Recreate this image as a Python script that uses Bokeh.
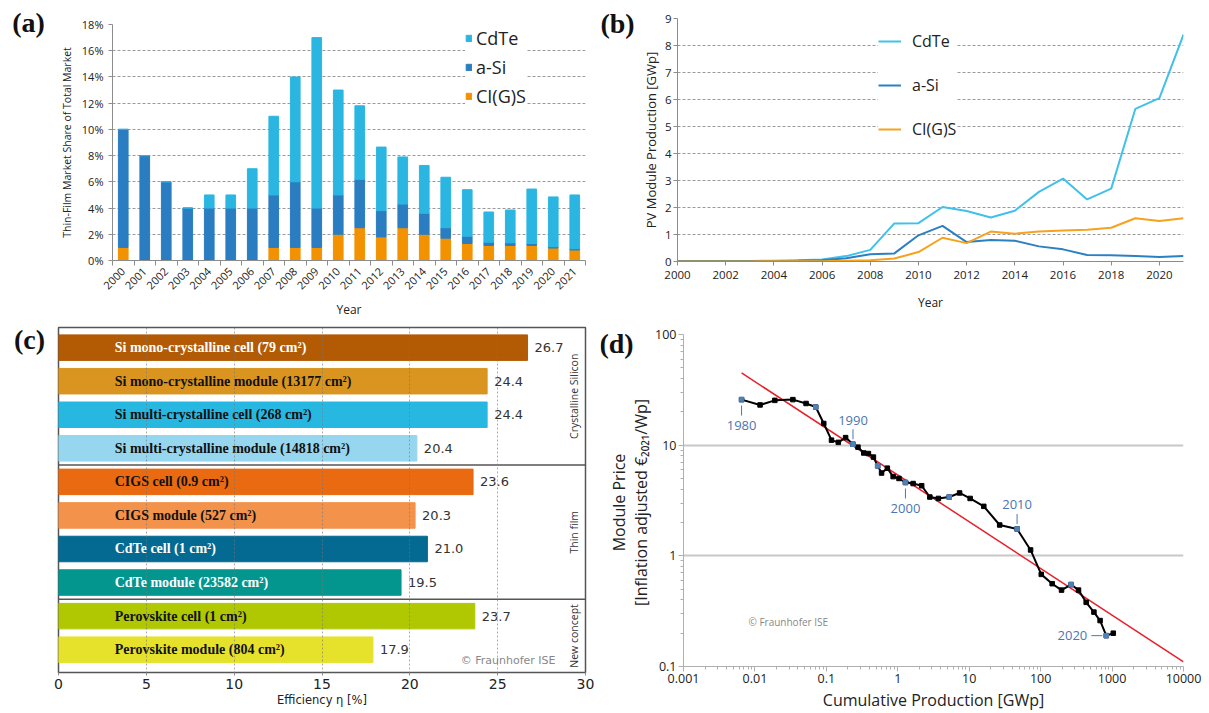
import math

from bokeh.core.properties import value
from bokeh.embed import file_html
from bokeh.layouts import column, row
from bokeh.models import (ColumnDataSource, CustomJSTickFormatter, FixedTicker, Label,
                          Legend, LegendItem, PrintfTickFormatter, Range1d, Span)
from bokeh.plotting import figure
from bokeh.resources import INLINE

SANS = "Open Sans"
SERIF = "Liberation Serif"
WIDE = "DejaVu Sans"

# ---------------------------------------------------------------- data
# (a) thin-film market share of total PV market [%]
years = list(range(2000, 2022))
share_cigs = [1.0, 0, 0, 0, 0, 0, 0, 1.0, 1.0, 1.0, 2.0, 2.5, 1.8, 2.5, 2.0, 1.7,
              1.3, 1.15, 1.15, 1.15, 0.95, 0.8]
share_asi = [9.0, 8.0, 6.0, 4.0, 4.0, 4.0, 4.0, 4.0, 5.0, 3.0, 3.0, 3.7, 2.0, 1.8,
             1.6, 0.8, 0.55, 0.25, 0.2, 0.15, 0.1, 0.1]
share_cdte = [0, 0, 0, 0, 1.0, 1.0, 3.0, 6.0, 8.0, 13.0, 8.0, 5.6, 4.85, 3.6, 3.65,
              3.85, 3.55, 2.3, 2.5, 4.15, 3.8, 4.1]
share_ticks = list(range(0, 19, 2))

# (b) PV module production [GWp]
prod_cdte = [0.02, 0.02, 0.02, 0.02, 0.03, 0.05, 0.07, 0.2, 0.43, 1.41, 1.42, 2.02,
             1.87, 1.63, 1.88, 2.58, 3.07, 2.3, 2.7, 5.65, 6.05, 8.4]
prod_asi = [0.02, 0.02, 0.02, 0.02, 0.02, 0.03, 0.05, 0.12, 0.27, 0.3, 0.97, 1.32,
            0.72, 0.8, 0.77, 0.56, 0.45, 0.24, 0.23, 0.2, 0.17, 0.2]
prod_cigs = [0, 0, 0, 0, 0.01, 0.01, 0.01, 0.03, 0.05, 0.11, 0.35, 0.88, 0.68, 1.11,
             1.03, 1.11, 1.15, 1.18, 1.25, 1.6, 1.5, 1.6]
prod_year_ticks = list(range(2000, 2021, 2))

# (c) record efficiencies [%]
eff_labels = ["Si mono-crystalline  cell (79 cm²)",
              "Si mono-crystalline  module (13177 cm²)",
              "Si multi-crystalline  cell (268 cm²)",
              "Si multi-crystalline  module (14818 cm²)",
              "CIGS cell (0.9 cm²)",
              "CIGS module (527 cm²)",
              "CdTe cell (1 cm²)",
              "CdTe module (23582 cm²)",
              "Perovskite cell (1 cm²)",
              "Perovskite module (804 cm²)"]
eff_values = [26.7, 24.4, 24.4, 20.4, 23.6, 20.3, 21.0, 19.5, 23.7, 17.9]
eff_groups = ["Crystalline Silicon", "Thin film", "New concept"]
eff_group_sizes = [4, 4, 2]

# (d) price learning curve
price_years = list(range(1980, 2022))
cum_prod = [0.0065, 0.0118, 0.019, 0.034, 0.052, 0.071, 0.092, 0.118, 0.147, 0.186,
            0.236, 0.277, 0.334, 0.388, 0.456, 0.523, 0.593, 0.714, 0.861, 1.04,
            1.28, 1.64, 2.16, 2.81, 3.70, 5.24, 7.33, 10.3, 16.0, 26.7,
            46.8, 72.3, 102, 145, 196, 267, 339, 434, 557, 680, 830, 1040]
price = [25.8, 23.1, 25.4, 25.8, 23.8, 22.1, 15.7, 11.1, 10.6, 11.7,
         10.2, 9.6, 8.5, 8.4, 7.8, 6.5, 5.6, 6.2, 5.2, 5.0,
         4.6, 4.5, 4.3, 3.4, 3.3, 3.4, 3.7, 3.3, 2.8, 1.9,
         1.75, 1.13, 0.68, 0.56, 0.49, 0.55, 0.49, 0.38, 0.31, 0.26, 0.19, 0.20]
fit_prod = [0.0065, 10000]
fit_price = [45, 0.11]

# ---------------------------------------------------------------- styles
CDTE, ASI, CIGS = "#2bb6e2", "#2a7dc0", "#f39200"
LINE_CDTE, LINE_ASI, LINE_CIGS = "#41c0ea", "#2b80c2", "#f5a21e"
bar_colors = ["#b25b04", "#d9951f", "#27b8e2", "#96d6ef", "#e96a10",
              "#f3924a", "#046a92", "#03968f", "#b0c801", "#e6e22c"]
text_colors = ["white", "#111", "#111", "#111", "#111",
               "#111", "white", "white", "#111", "#111"]
YEAR_BLUE = "#4a76b3"

# frames are laid out independently (no alignment across a row)
COMMON = dict(output_backend="svg", toolbar_location=None, title=None, frame_align=False)


def base_axes(p, font=SANS, tick_size="11px", label_size="11px"):
    for ax in (p.xaxis, p.yaxis):
        ax.axis_line_color = "#8c8c8c"
        ax.major_tick_line_color = "#8c8c8c"
        ax.minor_tick_line_color = "#8c8c8c"
        ax.major_label_text_font = font
        ax.major_label_text_font_size = tick_size
        ax.major_label_text_color = "#222"
        ax.axis_label_text_font = font
        ax.axis_label_text_font_size = label_size
        ax.axis_label_text_font_style = "normal"
        ax.axis_label_text_color = "#222"
    p.outline_line_color = None
    p.background_fill_color = "white"
    p.border_fill_color = "white"


def side_strip(width, height):
    """Narrow blank canvas (pixel coordinates, origin top-left) for panel tags."""
    s = figure(width=width, height=height, x_range=Range1d(0, width), y_range=Range1d(height, 0),
               x_axis_location=None, y_axis_location=None, min_border=0, **COMMON)
    s.outline_line_color = None
    s.xgrid.visible = False
    s.ygrid.visible = False
    return s


def panel_tag(s, text, x, y):
    s.text(x=[x], y=[y], text=[text], text_font=value(SERIF), text_font_style="bold",
           text_font_size="28px", text_color="#111", text_align="center",
           text_baseline="middle")


# ---------------------------------------------------------------- (a)
tag_a = side_strip(50, 320)
panel_tag(tag_a, "(a)", 28, 22)

pa = figure(width=550, height=320, x_range=Range1d(1999.5, 2021.5), y_range=Range1d(0, 18),
            min_border_left=62, min_border_right=15, min_border_top=24, min_border_bottom=60,
            **COMMON)
base_axes(pa, label_size="10.5px")
src_a = ColumnDataSource(dict(year=years, cigs=share_cigs, asi=share_asi, cdte=share_cdte))
bars = pa.vbar_stack(["cigs", "asi", "cdte"], x="year", width=0.45,
                     color=[CIGS, ASI, CDTE], source=src_a)
pa.xaxis.ticker = FixedTicker(ticks=years, minor_ticks=[y - 0.5 for y in years] + [years[-1] + 0.5])
pa.xaxis.major_tick_in = 0
pa.xaxis.major_tick_out = 0
pa.xaxis.minor_tick_in = 0
pa.xaxis.minor_tick_out = 5
pa.xaxis.major_label_orientation = math.pi / 4
pa.xaxis.major_label_standoff = 4
pa.xaxis.axis_label = "Year"
pa.xaxis.axis_label_text_font_size = "12px"
pa.yaxis.ticker = FixedTicker(ticks=share_ticks)
pa.yaxis.formatter = PrintfTickFormatter(format="%d%%")
pa.yaxis.major_tick_in = 0
pa.yaxis.major_tick_out = 4
pa.yaxis.axis_label = "Thin-Film Market Share of Total Market"
pa.xgrid.visible = False
pa.ygrid.ticker = FixedTicker(ticks=share_ticks)
pa.ygrid.grid_line_color = "#9a9a9a"
pa.ygrid.grid_line_dash = "3 2"
leg_a = Legend(items=[LegendItem(label="CdTe", renderers=[bars[2]]),
                      LegendItem(label="a-Si", renderers=[bars[1]]),
                      LegendItem(label="CI(G)S", renderers=[bars[0]])],
               location=(353, 152), label_text_font=SANS, label_text_font_size="18px",
               label_text_color="#222", glyph_width=7, glyph_height=8,
               label_height=18, spacing=5, padding=0, label_standoff=4,
               border_line_color=None, background_fill_color="white",
               background_fill_alpha=1.0)
pa.add_layout(leg_a)

# ---------------------------------------------------------------- (b)
tag_b = side_strip(38, 320)
panel_tag(tag_b, "(b)", 17, 23)

pb = figure(width=571, height=320, x_range=Range1d(2000, 2021), y_range=Range1d(0, 9),
            min_border_left=33, min_border_right=26, min_border_top=18, min_border_bottom=59,
            **COMMON)
base_axes(pb, tick_size="11.5px", label_size="13px")
r_cdte = pb.line(years, prod_cdte, color=LINE_CDTE, line_width=2)
r_asi = pb.line(years, prod_asi, color=LINE_ASI, line_width=2)
r_cigs = pb.line(years, prod_cigs, color=LINE_CIGS, line_width=2)
pb.xaxis.ticker = FixedTicker(ticks=prod_year_ticks)
pb.xaxis.major_tick_in = 0
pb.xaxis.major_tick_out = 4
pb.xaxis.axis_label = "Year"
pb.xaxis.axis_label_text_font_size = "12px"
pb.xaxis.axis_label_standoff = 12
pb.yaxis.ticker = FixedTicker(ticks=list(range(0, 10)))
pb.yaxis.major_tick_in = 0
pb.yaxis.major_tick_out = 4
pb.yaxis.major_label_standoff = 2
pb.yaxis.axis_label_standoff = 2
pb.yaxis.axis_label = "PV Module Production [GWp]"
pb.xgrid.visible = False
pb.ygrid.ticker = FixedTicker(ticks=list(range(1, 10)))
pb.ygrid.grid_line_color = "#9a9a9a"
pb.ygrid.grid_line_dash = "3 2"
leg_b = Legend(items=[LegendItem(label="CdTe", renderers=[r_cdte]),
                      LegendItem(label="a-Si", renderers=[r_asi]),
                      LegendItem(label="CI(G)S", renderers=[r_cigs])],
               location=(201, 120), label_text_font=SANS, label_text_font_size="16px",
               label_text_color="#222", glyph_width=23, glyph_height=20,
               label_height=24, spacing=20, padding=10, label_standoff=11,
               border_line_color=None, background_fill_color="white",
               background_fill_alpha=1.0)
pb.add_layout(leg_b)

# ---------------------------------------------------------------- (c)
tag_c = side_strip(50, 393)
panel_tag(tag_c, "(c)", 29, 19)

rows = list(range(len(eff_values)))
bounds = [-0.6]
acc = 0
for n in eff_group_sizes:
    acc += n
    bounds.append(acc - 0.5)
bounds[-1] = len(eff_values) - 0.32

pc = figure(width=550, height=393, x_range=Range1d(0, 30), y_range=Range1d(bounds[-1], bounds[0]),
            min_border_left=8, min_border_right=15, min_border_top=7, min_border_bottom=41,
            **COMMON)
base_axes(pc, font=WIDE, tick_size="14px", label_size="11.5px")
pc.outline_line_color = "#555"
pc.outline_line_width = 1.5
pc.hbar(y=rows, left=0, right=eff_values, height=0.76, color=bar_colors)
pc.text(x=3.2, y=rows, text=eff_labels, text_color=text_colors, text_font=value(SERIF),
        text_font_style="bold", text_font_size="14px", text_baseline="middle")
pc.text(x=eff_values, y=rows, text=[f"{v:.1f}" for v in eff_values], x_offset=7,
        text_color="#333", text_font=value(WIDE), text_font_size="13px",
        text_baseline="middle")
for b in bounds[1:-1]:
    pc.add_layout(Span(location=b, dimension="width", line_color="#555", line_width=1.5))
centers = [(bounds[i] + bounds[i + 1]) / 2 for i in range(len(eff_groups))]
pc.text(x=29.35, y=centers, text=eff_groups, angle=math.pi / 2, text_align="center",
        text_baseline="middle", text_font=value(SANS), text_font_size="10.5px",
        text_color="#333")
pc.add_layout(Label(x=22.9, y=9.32, text="© Fraunhofer ISE", text_font=WIDE,
                    text_font_size="11px", text_color="#888", text_baseline="middle"))
pc.yaxis.visible = False
pc.xaxis.ticker = FixedTicker(ticks=list(range(0, 31, 5)))
pc.xaxis.axis_line_color = None
pc.xaxis.major_tick_in = 0
pc.xaxis.major_tick_out = 3
pc.xaxis.major_label_standoff = 3
pc.xaxis.axis_label = "Efficiency η [%]"
pc.xaxis.axis_label_standoff = 1
pc.ygrid.visible = False
pc.xgrid.ticker = FixedTicker(ticks=[5, 10, 15, 20, 25])
pc.xgrid.grid_line_color = "#777"
pc.xgrid.grid_line_alpha = 0.6
pc.xgrid.grid_line_dash = "2 2"
pc.xgrid.level = "overlay"

# ---------------------------------------------------------------- (d)
tag_d = side_strip(52, 393)
panel_tag(tag_d, "(d)", 16, 23)
# y-axis title of panel (d), two lines, drawn beside the tag
tag_d.text(x=[18, 40], y=[182, 182],
           text=["Module Price", "[Inflation adjusted €₂₀₂₁/Wp]"],
           angle=math.pi / 2, text_align="center", text_baseline="middle",
           text_font=value(SANS), text_font_size="16px", text_color="#222")

pd = figure(width=557, height=393, x_axis_type="log", y_axis_type="log",
            x_range=Range1d(0.001, 10000), y_range=Range1d(0.1, 100),
            min_border_left=30, min_border_right=26, min_border_top=14, min_border_bottom=46,
            **COMMON)
base_axes(pd, tick_size="12.5px", label_size="16px")
x_dec = list(range(-3, 5))
y_dec = list(range(-1, 3))
pd.xaxis.ticker = FixedTicker(ticks=[10.0 ** k for k in x_dec],
                              minor_ticks=[m * 10.0 ** k for k in x_dec[:-1] for m in range(2, 10)])
pd.yaxis.ticker = FixedTicker(ticks=[10.0 ** k for k in y_dec],
                              minor_ticks=[m * 10.0 ** k for k in y_dec[:-1] for m in range(2, 10)])
fmt = CustomJSTickFormatter(code="return String(parseFloat(tick.toPrecision(4)));")
pd.xaxis.formatter = fmt
pd.yaxis.formatter = fmt
for ax in (pd.xaxis, pd.yaxis):
    ax.axis_line_color = "#b0b0b0"
    ax.major_tick_line_color = "#b0b0b0"
    ax.minor_tick_line_color = "#b0b0b0"
    ax.major_tick_in = 0
    ax.major_tick_out = 5
    ax.minor_tick_in = 0
    ax.minor_tick_out = 3
    ax.major_label_standoff = 2
pd.xaxis.axis_label = "Cumulative Production [GWp]"
pd.xaxis.axis_label_standoff = 3
pd.xgrid.visible = False
pd.ygrid.ticker = FixedTicker(ticks=[10.0 ** k for k in y_dec[1:]])
pd.ygrid.grid_line_color = "#c8c8c8"
pd.ygrid.grid_line_width = 2

pd.line(fit_prod, fit_price, color="#e8202a", line_width=1.5)
pd.line(cum_prod, price, color="black", line_width=2)
pd.scatter(cum_prod, price, marker="square", size=4.5, color="black")
five = [i for i, y in enumerate(price_years) if y % 5 == 0]
pd.scatter([cum_prod[i] for i in five], [price[i] for i in five], marker="square",
           size=4.5, color="#4f81bd")

FRAME_W, FRAME_H = 557 - 30 - 26, 393 - 14 - 46
PX_DEC_X = FRAME_W / (len(x_dec) - 1)
PX_DEC_Y = FRAME_H / (len(y_dec) - 1)


def up(v, px):
    return v * 10 ** (px / PX_DEC_Y)


def right(v, px):
    return v * 10 ** (px / PX_DEC_X)


label_style = dict(text_font=value(SANS), text_font_size="13px", text_color=YEAR_BLUE,
                   text_align="center", text_baseline="middle")
# year annotations: (year, side)
annotated = [(1980, "below"), (1990, "above"), (2000, "below"), (2010, "above"), (2020, "left")]
for yr, side in annotated:
    i = price_years.index(yr)
    x0, y0 = cum_prod[i], price[i]
    if side == "below":
        pd.segment(x0, up(y0, -6), x0, up(y0, -16), color=YEAR_BLUE, line_width=1)
        pd.text(x0, y0, text=[str(yr)], y_offset=26, **label_style)
    elif side == "above":
        pd.segment(x0, up(y0, 5), x0, up(y0, 15), color=YEAR_BLUE, line_width=1)
        pd.text(x0, y0, text=[str(yr)], y_offset=-24, **label_style)
    else:
        pd.segment(right(x0, -15), y0, right(x0, -4), y0, color=YEAR_BLUE, line_width=1)
        pd.text(x0, y0, text=[str(yr)], x_offset=-19,
                **{**label_style, "text_align": "right"})
pd.add_layout(Label(x=65, y=45, x_units="screen", y_units="screen", text="© Fraunhofer ISE",
                    text_font=SANS, text_font_size="10px", text_color="#888",
                    text_baseline="middle"))

layout = column(row(tag_a, pa, tag_b, pb), row(tag_c, pc, tag_d, pd))
open("out.html", "w").write(file_html(layout, INLINE))
